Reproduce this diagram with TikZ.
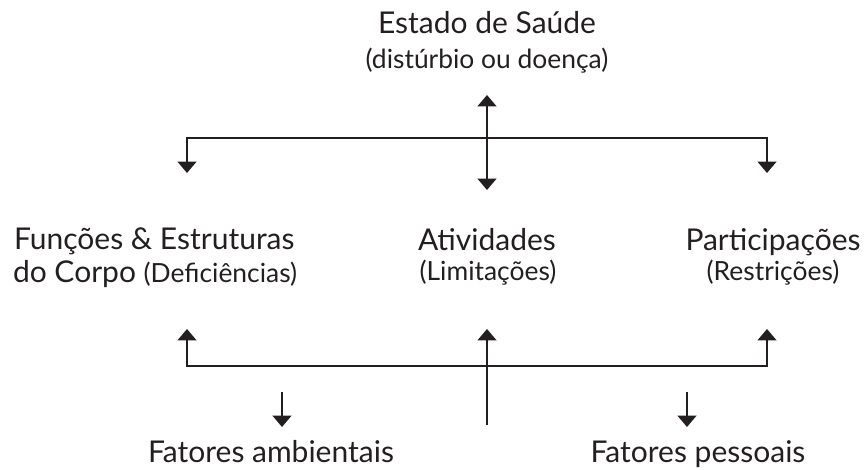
\documentclass[tikz,border=0pt]{standalone}
\usepackage{fontspec}
\setmainfont{Lato}
\usetikzlibrary{arrows.meta}
\definecolor{tinta}{HTML}{231F20}
\begin{document}
\begin{tikzpicture}[x=0.75pt, y=-0.75pt, line width=1.5pt, color=tinta,
    seta/.style={-{Triangle[width=14pt,length=8.5pt]}},
    dupla/.style={{Triangle[width=14pt,length=8.5pt]}-{Triangle[width=14pt,length=8.5pt]}},
    grande/.style={font=\fontsize{22.5}{26}\selectfont, inner sep=0pt, anchor=base},
    pequeno/.style={font=\fontsize{19.8}{23}\selectfont, inner sep=0pt, anchor=base}]
    \useasboundingbox (0,0) rectangle (866,470);
    % textos
    \node[grande] (saude) at (487,34) {Estado de Saúde};
    \node[pequeno] (saudeSub) at (487,69) {(distúrbio ou doença)};
    \node[grande, anchor=base west] (funcoes) at (13,249) {Funções \& Estruturas};
    \node[grande, anchor=base west] (corpo) at (12,282) {do Corpo {\fontsize{19.8}{23}\selectfont(Deficiências)}};
    \node[grande] (ativ) at (487,250) {Atividades};
    \node[pequeno] (ativSub) at (488,280) {(Limitações)};
    \node[grande] (part) at (773,250) {Participações};
    \node[pequeno] (partSub) at (773,280) {(Restrições)};
    \node[grande] (ambient) at (271,462) {Fatores ambientais};
    \node[grande] (pessoal) at (698,462) {Fatores pessoais};
    % pontos
    \coordinate (topoL) at (187,138);
    \coordinate (topoR) at (767,138);
    \coordinate (baseL) at (187,366);
    \coordinate (baseR) at (767,366);
    \coordinate (topoC) at (487,95);
    \coordinate (meioC) at (487,190);
    \coordinate (funcC) at (187,173);
    \coordinate (partC) at (767,173);
    \coordinate (funcB) at (187,329);
    \coordinate (partB) at (767,329);
    \coordinate (ativB) at (487,329);
    \coordinate (fundoC) at (487,425);
    \coordinate (ambTop) at (282,392);
    \coordinate (ambTip) at (282,427);
    \coordinate (pesTop) at (687,392);
    \coordinate (pesTip) at (687,427);
    % setas
    \draw[dupla] (topoC) -- (meioC);
    \draw[seta] (topoR) -- (topoL) -- (funcC);
    \draw[seta] (topoL) -- (topoR) -- (partC);
    \draw[seta] (baseR) -- (baseL) -- (funcB);
    \draw[seta] (baseL) -- (baseR) -- (partB);
    \draw[seta] (fundoC) -- (ativB);
    \draw[seta] (ambTop) -- (ambTip);
    \draw[seta] (pesTop) -- (pesTip);
\end{tikzpicture}
\end{document}
